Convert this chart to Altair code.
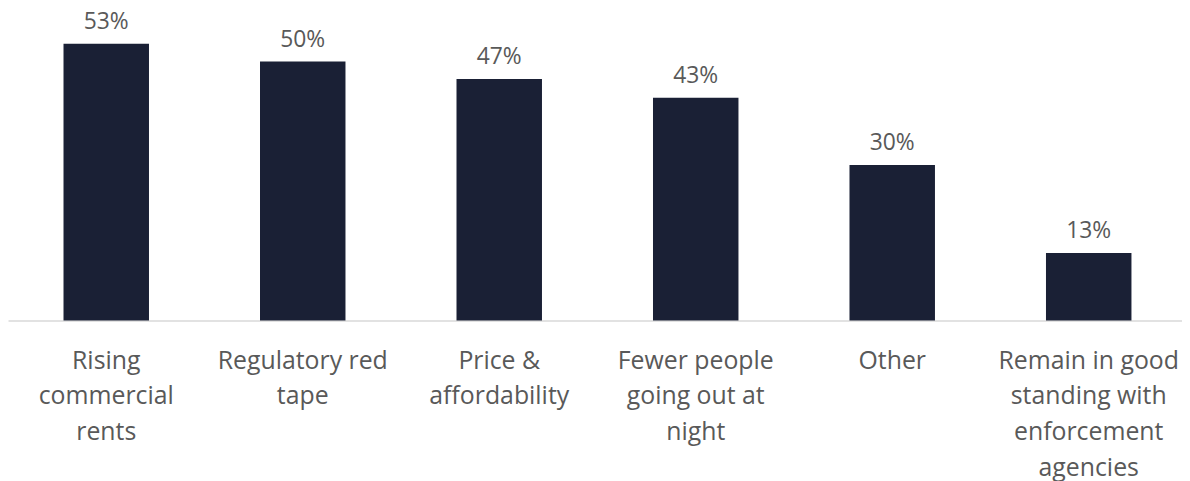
import altair as alt
import pandas as pd

categories = [
    "Rising|commercial|rents",
    "Regulatory red|tape",
    "Price &|affordability",
    "Fewer people|going out at|night",
    "Other",
    "Remain in good|standing with|enforcement|agencies",
]
values = [53.4, 50.0, 46.6, 43.0, 30.0, 13.0]
labels = ["53%", "50%", "47%", "43%", "30%", "13%"]

df = pd.DataFrame({"cat": categories, "val": values, "lab": labels})

FONT = "Open Sans"
GREY = "#595959"

base = alt.Chart(df).encode(
    x=alt.X(
        "cat:N",
        sort=categories,
        scale=alt.Scale(paddingInner=0.565, paddingOuter=0.2825, range=[0, 1187]),
        axis=alt.Axis(
            title=None,
            labelExpr="split(datum.label, '|')",
            labelAngle=0,
            labelFont=FONT,
            labelFontSize=25,
            labelColor=GREY,
            labelLineHeight=36,
            labelPadding=28,
            labelLimit=400,
            ticks=False,
            domainColor="#d9d9d9",
            domainWidth=1.5,
        ),
    ),
    y=alt.Y("val:Q", scale=alt.Scale(domain=[0, 60], nice=False), axis=None),
)

bars = base.mark_bar(color="#1a2035")
text = base.mark_text(
    dy=-15, baseline="alphabetic", font=FONT, fontSize=23, color=GREY
).encode(text="lab:N")

chart = (
    (bars + text)
    .properties(
        width=1182,
        height=313,
        padding={"left": 0, "top": 0, "right": 0, "bottom": 160},
        autosize=alt.AutoSizeParams(type="none"),
    )
    .configure(background="white")
    .configure_view(stroke=None, strokeWidth=0)
)

chart.save("out.html", embed_options={"renderer": "svg", "actions": False})
